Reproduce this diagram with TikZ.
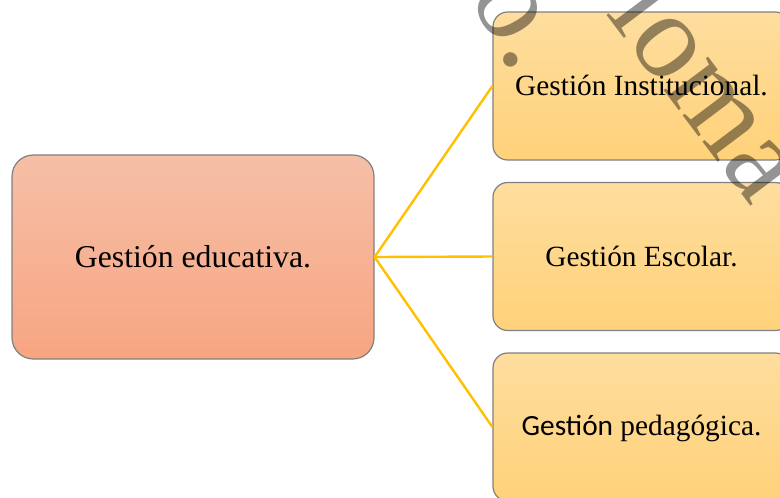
\documentclass[tikz,border=0pt]{standalone}
\usepackage{fontspec}
\setmainfont{Liberation Serif}
\newfontfamily\gestionfont{Carlito}
\usetikzlibrary{positioning}

\begin{document}
\begin{tikzpicture}[x=0.75pt,y=-0.75pt]
        % Setup the style for the boxes
        \tikzset{main box/.style={draw=black!50, line width=0.9pt,
                                  rounded corners=16pt,
                                  top color=boxRedTop, bottom color=boxRedBottom,
                                  minimum width=271.5pt, minimum height=153pt,
                                  font=\fontsize{23.8}{26}\selectfont},
                 side box/.style={draw=black!50, line width=0.9pt,
                                  rounded corners=11pt,
                                  top color=boxGoldTop, bottom color=boxGoldBottom,
                                  minimum width=222.75pt, minimum height=111pt,
                                  font=\fontsize{22}{24}\selectfont},
                 link/.style={draw=linkGold, line width=1.8pt},
                 watermark/.style={rotate=-53, text=black, text opacity=0.42,
                                   font=\fontsize{91}{100}\selectfont}}
        \definecolor{boxRedTop}{HTML}{F6BFA7}
        \definecolor{boxRedBottom}{HTML}{F7A581}
        \definecolor{boxGoldTop}{HTML}{FEDD9E}
        \definecolor{boxGoldBottom}{HTML}{FFD27A}
        \definecolor{linkGold}{HTML}{FFC000}

        \useasboundingbox (0,0) rectangle (780,497);

        % Draw the boxes
        \node[main box] at (193,257) (educativa) {Gestión educativa.};
        \node[side box] at (641.5,86) (institucional) {Gestión Institucional.};
        \node[side box] at (641.5,256.5) (escolar) {Gestión Escolar.};
        \node[side box, text height=18pt] at (641.5,427) (pedagogica) {{\gestionfont Gestión} pedagógica.};

        % Connect the boxes
        \draw[link] (educativa.east) -- (institucional.west);
        \draw[link] (educativa.east) -- (escolar.west);
        \draw[link] (educativa.east) -- (pedagogica.west);

        % Watermark across the page
        \node[watermark, rotate=-7] at (515,22) (markone) {o.};
        \node[watermark] at (737,119) (marktwo) {loma c};
\end{tikzpicture}
\end{document}
